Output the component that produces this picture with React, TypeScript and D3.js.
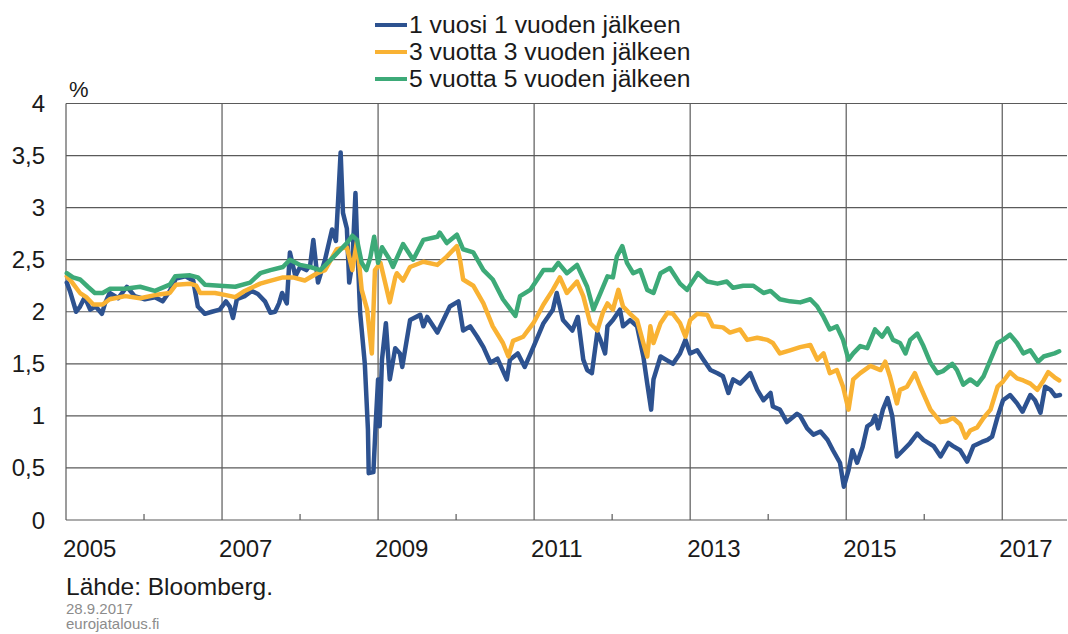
import { useEffect, useRef } from 'react'
import * as d3 from 'd3'

// [decimal year, %]
const oneYearInOne: [number, number][] = [
  [2005.01, 2.28], [2005.05, 2.2], [2005.13, 2.0], [2005.18, 2.05], [2005.24, 2.14], [2005.31, 2.02],
  [2005.38, 2.05], [2005.46, 1.98], [2005.5, 2.08], [2005.56, 2.18], [2005.67, 2.13], [2005.78, 2.24],
  [2005.88, 2.15], [2006.01, 2.12], [2006.14, 2.14], [2006.24, 2.1], [2006.33, 2.2], [2006.41, 2.32],
  [2006.53, 2.34], [2006.63, 2.3], [2006.69, 2.05], [2006.78, 1.98], [2006.87, 2.0], [2006.97, 2.02],
  [2007.05, 2.1], [2007.1, 2.05], [2007.14, 1.94], [2007.19, 2.12], [2007.29, 2.15], [2007.38, 2.2],
  [2007.46, 2.17], [2007.55, 2.1], [2007.62, 1.99], [2007.68, 2.0], [2007.73, 2.08], [2007.77, 2.18],
  [2007.83, 2.08], [2007.87, 2.57], [2007.94, 2.34], [2008.0, 2.43], [2008.08, 2.4], [2008.13, 2.45],
  [2008.17, 2.69], [2008.23, 2.28], [2008.32, 2.5], [2008.41, 2.79], [2008.46, 2.68], [2008.49, 3.1],
  [2008.52, 3.53], [2008.55, 2.95], [2008.6, 2.8], [2008.63, 2.28], [2008.67, 2.47], [2008.71, 3.14],
  [2008.73, 2.69], [2008.77, 1.99], [2008.83, 1.5], [2008.87, 0.87], [2008.88, 0.45], [2008.94, 0.46],
  [2008.97, 0.93], [2009.0, 1.35], [2009.02, 0.9], [2009.05, 1.54], [2009.1, 1.89], [2009.15, 1.35],
  [2009.22, 1.65], [2009.28, 1.6], [2009.31, 1.47], [2009.41, 1.92], [2009.54, 1.97], [2009.58, 1.86],
  [2009.63, 1.95], [2009.76, 1.8], [2009.92, 2.05], [2010.03, 2.1], [2010.09, 1.82], [2010.18, 1.86],
  [2010.27, 1.76], [2010.35, 1.66], [2010.44, 1.51], [2010.53, 1.55], [2010.65, 1.35], [2010.69, 1.54],
  [2010.79, 1.6], [2010.88, 1.47], [2010.99, 1.66], [2011.12, 1.89], [2011.24, 2.02], [2011.29, 2.18],
  [2011.37, 1.92], [2011.49, 1.82], [2011.56, 1.95], [2011.63, 1.54], [2011.68, 1.44], [2011.74, 1.41],
  [2011.81, 1.8], [2011.85, 1.73], [2011.91, 1.6], [2011.94, 1.86], [2012.01, 1.92], [2012.1, 2.02],
  [2012.14, 1.86], [2012.23, 1.92], [2012.32, 1.86], [2012.4, 1.57], [2012.45, 1.31], [2012.5, 1.06],
  [2012.53, 1.35], [2012.62, 1.57], [2012.71, 1.53], [2012.78, 1.5], [2012.87, 1.6], [2012.94, 1.73],
  [2013.0, 1.6], [2013.09, 1.63], [2013.17, 1.54], [2013.26, 1.44], [2013.35, 1.41], [2013.42, 1.38],
  [2013.49, 1.22], [2013.55, 1.35], [2013.64, 1.31], [2013.77, 1.41], [2013.86, 1.25], [2013.94, 1.15],
  [2014.03, 1.22], [2014.06, 1.09], [2014.15, 1.06], [2014.24, 0.94], [2014.37, 1.02], [2014.41, 1.0],
  [2014.5, 0.88], [2014.58, 0.82], [2014.67, 0.85], [2014.76, 0.77], [2014.83, 0.67], [2014.92, 0.55],
  [2014.97, 0.32], [2015.03, 0.48], [2015.08, 0.67], [2015.14, 0.55], [2015.21, 0.7], [2015.27, 0.9],
  [2015.33, 0.93], [2015.37, 1.0], [2015.41, 0.88], [2015.47, 1.06], [2015.53, 1.17], [2015.59, 1.0],
  [2015.65, 0.61], [2015.73, 0.67], [2015.82, 0.74], [2015.91, 0.83], [2015.99, 0.77], [2016.12, 0.71],
  [2016.21, 0.61], [2016.31, 0.74], [2016.37, 0.71], [2016.46, 0.67], [2016.55, 0.56], [2016.63, 0.71],
  [2016.74, 0.75], [2016.81, 0.77], [2016.87, 0.8], [2016.94, 0.99], [2017.01, 1.15], [2017.1, 1.2],
  [2017.19, 1.12], [2017.26, 1.04], [2017.36, 1.2], [2017.42, 1.15], [2017.49, 1.03], [2017.55, 1.28],
  [2017.62, 1.25], [2017.68, 1.19], [2017.74, 1.2]
]

const threeYearsInThree: [number, number][] = [
  [2005.01, 2.34], [2005.08, 2.28], [2005.18, 2.18], [2005.26, 2.14], [2005.35, 2.07], [2005.47, 2.07],
  [2005.56, 2.12], [2005.76, 2.15], [2005.95, 2.13], [2006.14, 2.16], [2006.33, 2.18], [2006.41, 2.26],
  [2006.59, 2.27], [2006.67, 2.25], [2006.72, 2.18], [2006.91, 2.18], [2007.05, 2.16], [2007.17, 2.14],
  [2007.29, 2.2], [2007.49, 2.27], [2007.58, 2.29], [2007.78, 2.33], [2007.91, 2.33], [2008.06, 2.3],
  [2008.22, 2.37], [2008.32, 2.4], [2008.47, 2.6], [2008.6, 2.62], [2008.67, 2.4], [2008.73, 2.68],
  [2008.79, 2.21], [2008.86, 2.02], [2008.92, 1.6], [2008.96, 2.4], [2009.03, 2.47], [2009.09, 2.28],
  [2009.15, 2.09], [2009.22, 2.33], [2009.24, 2.37], [2009.32, 2.3], [2009.41, 2.43], [2009.58, 2.48],
  [2009.76, 2.45], [2009.88, 2.53], [2010.01, 2.63], [2010.05, 2.5], [2010.09, 2.31], [2010.22, 2.25],
  [2010.35, 2.08], [2010.47, 1.86], [2010.6, 1.7], [2010.67, 1.57], [2010.73, 1.72], [2010.86, 1.76],
  [2010.99, 1.89], [2011.12, 2.07], [2011.24, 2.21], [2011.33, 2.33], [2011.42, 2.18], [2011.55, 2.29],
  [2011.63, 2.15], [2011.72, 1.89], [2011.81, 1.82], [2011.88, 1.99], [2011.94, 2.08], [2012.01, 2.02],
  [2012.08, 2.21], [2012.14, 2.05], [2012.23, 1.98], [2012.32, 1.92], [2012.4, 1.7], [2012.45, 1.57],
  [2012.49, 1.86], [2012.53, 1.7], [2012.62, 1.89], [2012.71, 1.99], [2012.78, 1.98], [2012.87, 1.89],
  [2012.94, 1.76], [2013.0, 1.92], [2013.09, 1.98], [2013.22, 1.97], [2013.29, 1.86], [2013.42, 1.85],
  [2013.51, 1.8], [2013.64, 1.83], [2013.73, 1.73], [2013.86, 1.75], [2013.99, 1.73], [2014.06, 1.7],
  [2014.15, 1.6], [2014.28, 1.63], [2014.41, 1.66], [2014.54, 1.68], [2014.63, 1.54], [2014.71, 1.6],
  [2014.79, 1.41], [2014.88, 1.44], [2014.96, 1.28], [2015.03, 1.06], [2015.09, 1.35], [2015.18, 1.41],
  [2015.31, 1.48], [2015.44, 1.44], [2015.5, 1.52], [2015.56, 1.38], [2015.65, 1.12], [2015.69, 1.25],
  [2015.78, 1.28], [2015.88, 1.41], [2015.95, 1.28], [2016.08, 1.06], [2016.21, 0.94], [2016.29, 0.95],
  [2016.37, 0.98], [2016.46, 0.92], [2016.53, 0.79], [2016.59, 0.86], [2016.68, 0.89], [2016.76, 0.98],
  [2016.85, 1.06], [2016.94, 1.28], [2017.01, 1.33], [2017.1, 1.42], [2017.19, 1.36], [2017.27, 1.34],
  [2017.36, 1.31], [2017.45, 1.25], [2017.53, 1.34], [2017.59, 1.42], [2017.67, 1.37], [2017.73, 1.34]
]

const fiveYearsInFive: [number, number][] = [
  [2005.01, 2.37], [2005.09, 2.33], [2005.18, 2.31], [2005.28, 2.24], [2005.37, 2.18], [2005.47, 2.18],
  [2005.56, 2.22], [2005.76, 2.22], [2005.95, 2.24], [2006.14, 2.2], [2006.33, 2.26], [2006.4, 2.34],
  [2006.59, 2.35], [2006.69, 2.33], [2006.78, 2.26], [2006.97, 2.25], [2007.17, 2.24], [2007.36, 2.28],
  [2007.49, 2.37], [2007.62, 2.4], [2007.78, 2.43], [2007.87, 2.5], [2008.0, 2.45], [2008.13, 2.43],
  [2008.26, 2.4], [2008.42, 2.52], [2008.6, 2.66], [2008.67, 2.73], [2008.73, 2.69], [2008.79, 2.47],
  [2008.85, 2.4], [2008.9, 2.52], [2008.95, 2.72], [2009.0, 2.47], [2009.05, 2.62], [2009.15, 2.5],
  [2009.19, 2.43], [2009.32, 2.65], [2009.45, 2.5], [2009.58, 2.69], [2009.76, 2.72], [2009.79, 2.76],
  [2009.88, 2.66], [2010.01, 2.74], [2010.09, 2.6], [2010.22, 2.57], [2010.35, 2.4], [2010.47, 2.31],
  [2010.6, 2.12], [2010.69, 2.03], [2010.76, 1.96], [2010.82, 2.15], [2010.95, 2.21], [2011.04, 2.31],
  [2011.12, 2.4], [2011.24, 2.4], [2011.31, 2.47], [2011.42, 2.37], [2011.55, 2.45], [2011.68, 2.24],
  [2011.76, 2.02], [2011.85, 2.18], [2011.94, 2.34], [2012.01, 2.33], [2012.06, 2.53], [2012.13, 2.63],
  [2012.19, 2.47], [2012.27, 2.37], [2012.36, 2.4], [2012.45, 2.21], [2012.53, 2.18], [2012.62, 2.37],
  [2012.74, 2.42], [2012.87, 2.27], [2012.96, 2.21], [2013.1, 2.37], [2013.22, 2.29], [2013.35, 2.27],
  [2013.47, 2.29], [2013.55, 2.23], [2013.68, 2.25], [2013.81, 2.25], [2013.94, 2.18], [2014.03, 2.2],
  [2014.15, 2.12], [2014.28, 2.1], [2014.41, 2.09], [2014.54, 2.12], [2014.63, 2.05], [2014.71, 1.95],
  [2014.79, 1.83], [2014.88, 1.86], [2014.96, 1.73], [2015.03, 1.54], [2015.09, 1.6], [2015.18, 1.67],
  [2015.27, 1.65], [2015.37, 1.83], [2015.46, 1.76], [2015.53, 1.84], [2015.6, 1.73], [2015.69, 1.7],
  [2015.76, 1.6], [2015.82, 1.73], [2015.91, 1.79], [2015.99, 1.67], [2016.08, 1.51], [2016.17, 1.41],
  [2016.24, 1.43], [2016.36, 1.5], [2016.42, 1.44], [2016.5, 1.3], [2016.59, 1.35], [2016.68, 1.3],
  [2016.76, 1.38], [2016.85, 1.54], [2016.94, 1.7], [2017.01, 1.73], [2017.1, 1.78], [2017.19, 1.7],
  [2017.27, 1.6], [2017.36, 1.63], [2017.46, 1.52], [2017.53, 1.57], [2017.67, 1.6], [2017.73, 1.62]
]

const seriesNames = ['1 vuosi 1 vuoden jälkeen', '3 vuotta 3 vuoden jälkeen', '5 vuotta 5 vuoden jälkeen']
const seriesColors = ['#2d5290', '#f9b233', '#3daa78']
const labelYears = [2005, 2007, 2009, 2011, 2013, 2015, 2017]
const minorYears = [2006, 2008, 2010, 2012, 2014, 2016]
const yTicks = [0, 0.5, 1, 1.5, 2, 2.5, 3, 3.5, 4]

export default function App() {
  const svgRef = useRef<SVGSVGElement>(null)

  useEffect(() => {
    if (!svgRef.current) return
    const svg = d3.select(svgRef.current)
    svg.selectAll('*').remove()

    const font = 'Liberation Sans, Arial, sans-serif'
    const gridColor = '#5a5a5a'

    const x = d3.scaleLinear().domain([2005, 2017.83]).range([66, 1067])
    const y = d3.scaleLinear().domain([0, 4]).range([520, 103.5])

    const g = svg.append('g')

    // horizontal grid
    g.selectAll('.hgrid')
      .data(yTicks.filter(d => d > 0))
      .enter()
      .append('line')
      .attr('x1', x(2005))
      .attr('x2', x.range()[1])
      .attr('y1', d => y(d))
      .attr('y2', d => y(d))
      .attr('stroke', gridColor)
      .attr('stroke-width', 1.2)

    // vertical grid
    g.selectAll('.vgrid')
      .data(labelYears.slice(1))
      .enter()
      .append('line')
      .attr('x1', d => x(d))
      .attr('x2', d => x(d))
      .attr('y1', y(4))
      .attr('y2', y(0))
      .attr('stroke', gridColor)
      .attr('stroke-width', 1.2)

    // axes lines
    g.append('line')
      .attr('x1', x(2005)).attr('x2', x(2005))
      .attr('y1', y(4)).attr('y2', y(0))
      .attr('stroke', gridColor).attr('stroke-width', 1.2)
    g.append('line')
      .attr('x1', x(2005)).attr('x2', x.range()[1])
      .attr('y1', y(0)).attr('y2', y(0))
      .attr('stroke', gridColor).attr('stroke-width', 1.2)

    g.selectAll('.minor')
      .data(minorYears)
      .enter()
      .append('line')
      .attr('x1', d => x(d))
      .attr('x2', d => x(d))
      .attr('y1', y(0))
      .attr('y2', y(0) - 6)
      .attr('stroke', gridColor)
      .attr('stroke-width', 1.2)

    // series
    const line = d3
      .line<[number, number]>()
      .x(d => x(d[0]))
      .y(d => y(d[1]))

    const allSeries = [oneYearInOne, threeYearsInThree, fiveYearsInFive]
    allSeries.forEach((s, i) => {
      g.append('path')
        .datum(s)
        .attr('fill', 'none')
        .attr('stroke', seriesColors[i])
        .attr('stroke-width', 4.5)
        .attr('stroke-linejoin', 'round')
        .attr('stroke-linecap', 'round')
        .attr('d', line)
    })

    // y labels
    g.selectAll('.ylab')
      .data(yTicks)
      .enter()
      .append('text')
      .attr('x', 45)
      .attr('y', d => y(d) + 8.5)
      .attr('text-anchor', 'end')
      .style('font-family', font)
      .style('font-size', '24px')
      .style('fill', '#1a1a1a')
      .text(d => String(d).replace('.', ','))

    // x labels
    g.selectAll('.xlab')
      .data(labelYears)
      .enter()
      .append('text')
      .attr('x', d => x(d) - 3)
      .attr('y', 557)
      .style('font-family', font)
      .style('font-size', '24px')
      .style('fill', '#1a1a1a')
      .text(d => String(d))

    g.append('text')
      .attr('x', 69)
      .attr('y', 97)
      .style('font-family', font)
      .style('font-size', '22px')
      .style('fill', '#1a1a1a')
      .text('%')

    // legend
    const legend = g.append('g')
    seriesNames.forEach((name, i) => {
      const ly = 25 + i * 27
      legend.append('line')
        .attr('x1', 375).attr('x2', 407)
        .attr('y1', ly).attr('y2', ly)
        .attr('stroke', seriesColors[i])
        .attr('stroke-width', 4)
      legend.append('text')
        .attr('x', 409)
        .attr('y', ly + 8)
        .style('font-family', font)
        .style('font-size', '24.7px')
        .style('fill', '#1a1a1a')
        .text(name)
    })

    // footer
    g.append('text')
      .attr('x', 66).attr('y', 595)
      .style('font-family', font)
      .style('font-size', '24.5px')
      .style('fill', '#1a1a1a')
      .text('Lähde: Bloomberg.')
    g.append('text')
      .attr('x', 66).attr('y', 614)
      .style('font-family', font)
      .style('font-size', '15px')
      .style('fill', '#8c8c8c')
      .text('28.9.2017')
    g.append('text')
      .attr('x', 66).attr('y', 629)
      .style('font-family', font)
      .style('font-size', '15px')
      .style('fill', '#8c8c8c')
      .text('eurojatalous.fi')
  }, [])

  return (
    <svg
      ref={svgRef}
      width={1068}
      height={634}
      style={{ position: 'absolute', left: 0, top: 0, background: '#fff', display: 'block' }}
    />
  )
}
